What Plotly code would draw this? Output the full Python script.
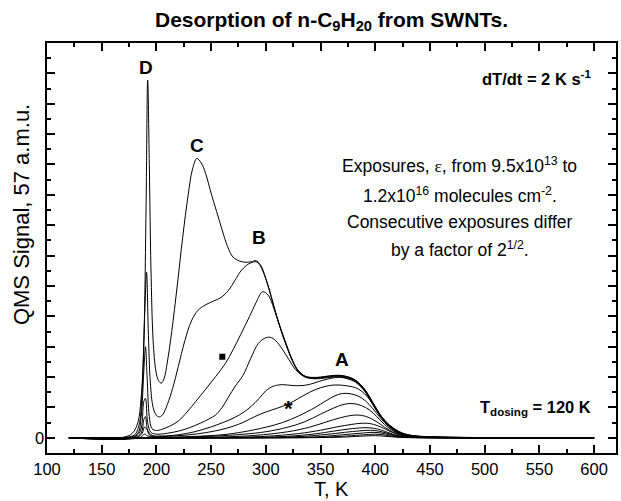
import plotly.graph_objects as go

# ---------------- data ----------------
T1 = [120, 170, 178, 183, 186, 188.5, 190.5, 192, 193.5, 195, 197, 199.5, 202, 204.5, 207, 210, 214, 219, 224, 229,
      233, 237, 241, 245, 250, 255, 260, 265, 270, 276, 282, 287, 291, 295, 300, 305, 310, 315, 320, 325,
      330, 336, 342, 350, 358, 367, 374, 382, 391, 398, 406, 413, 421, 428, 436, 450, 480, 520, 600]
S1 = [0, 0.02, 0.15, 0.5, 1.3, 3.2, 7.5, 11.78, 9.0, 5.6, 3.2, 2.2, 1.88, 1.8, 1.95, 2.5, 3.5, 5.0, 6.6, 8.0,
      8.85, 9.2, 9.05, 8.7, 8.05, 7.45, 6.85, 6.3, 5.95, 5.82, 5.78, 5.8, 5.83, 5.7, 5.25, 4.65, 4.0, 3.45, 2.95, 2.5,
      2.2, 2.03, 1.99, 2.0, 2.04, 2.06, 2.02, 1.9, 1.57, 1.15, 0.69, 0.42, 0.22, 0.12, 0.07, 0.035, 0.015, 0.005, 0]

T2 = [120, 170, 180, 184, 187, 189.5, 191, 192.5, 194.5, 197, 200, 203, 206, 210, 215, 220, 226, 232, 238, 245,
      252, 259, 266, 272, 278, 284, 288, 291, 295, 300, 305, 310, 315, 320, 325, 330, 336, 342, 350, 358,
      367, 374, 382, 391, 398, 406, 413, 421, 428, 436, 450, 480, 520, 600]
S2 = [0, 0.01, 0.1, 0.4, 1.6, 4.3, 5.45, 3.6, 1.8, 1.0, 0.74, 0.69, 0.78, 1.1, 1.65, 2.35, 3.2, 3.85, 4.2, 4.38,
      4.5, 4.62, 4.86, 5.2, 5.53, 5.72, 5.78, 5.8, 5.66, 5.22, 4.62, 3.98, 3.43, 2.93, 2.49, 2.19, 2.02, 1.98, 1.99, 2.03,
      2.05, 2.01, 1.89, 1.56, 1.14, 0.68, 0.41, 0.21, 0.11, 0.06, 0.03, 0.012, 0.004, 0]

T3 = [120, 175, 183, 186, 188.5, 190, 191.5, 193.5, 196, 200, 205, 212, 220, 228, 236, 245, 254, 263, 270, 277,
      285, 291, 297, 302, 306, 310, 315, 320, 325, 330, 336, 342, 350, 358, 367, 374, 382, 391, 398, 406,
      413, 421, 428, 436, 450, 480, 600]
S3 = [0, 0.01, 0.15, 0.7, 2.2, 3.0, 2.0, 0.7, 0.3, 0.24, 0.28, 0.38, 0.55, 0.85, 1.2, 1.6, 2.01, 2.45, 2.9, 3.4,
      3.99, 4.45, 4.81, 4.7, 4.4, 3.97, 3.41, 2.91, 2.47, 2.17, 2.0, 1.96, 1.97, 2.01, 2.03, 1.99, 1.87, 1.54, 1.12, 0.67,
      0.4, 0.2, 0.1, 0.055, 0.028, 0.01, 0]

T4 = [120, 178, 185, 188.5, 190, 192, 195, 200, 210, 220, 230, 240, 248, 254, 260, 266, 272, 279, 286, 293,
      299, 304, 309, 315, 321, 327, 333, 340, 350, 358, 367, 374, 382, 391, 398, 406, 413, 421, 428, 436,
      450, 480, 600]
S4 = [0, 0.01, 0.2, 1.2, 1.3, 0.5, 0.18, 0.12, 0.15, 0.22, 0.33, 0.48, 0.62, 0.75, 1.0, 1.35, 1.7, 2.05, 2.6, 3.1,
      3.28, 3.31, 3.2, 2.92, 2.58, 2.25, 2.06, 1.96, 1.95, 1.99, 2.01, 1.97, 1.85, 1.52, 1.1, 0.66, 0.39, 0.19, 0.1, 0.05,
      0.025, 0.01, 0]

T5 = [120, 180, 186, 188.5, 190, 192, 196, 205, 220, 235, 250, 262, 272, 280, 287, 294, 300, 307, 315, 325,
      333, 340, 348, 356, 363, 368, 374, 382, 391, 398, 406, 413, 421, 428, 436, 450, 480, 600]
S5 = [0, 0.01, 0.15, 0.6, 0.7, 0.25, 0.08, 0.06, 0.1, 0.2, 0.36, 0.52, 0.68, 0.85, 1.05, 1.3, 1.55, 1.7, 1.75, 1.72,
      1.72, 1.76, 1.85, 1.93, 1.98, 1.99, 1.95, 1.83, 1.5, 1.08, 0.64, 0.38, 0.19, 0.09, 0.05, 0.02, 0.008, 0]

T6 = [120, 182, 187, 189, 191, 194, 200, 215, 230, 245, 258, 270, 280, 290, 300, 310, 321, 330, 340, 350,
      358, 364, 370, 376, 382, 388, 395, 402, 409, 416, 423, 430, 440, 460, 600]
S6 = [0, 0.01, 0.15, 0.35, 0.3, 0.08, 0.04, 0.06, 0.1, 0.17, 0.26, 0.38, 0.52, 0.7, 0.85, 0.97, 1.12, 1.3, 1.5, 1.65,
      1.72, 1.74, 1.73, 1.7, 1.65, 1.52, 1.25, 0.85, 0.52, 0.28, 0.14, 0.07, 0.035, 0.01, 0]

T7 = [120, 185, 189, 192, 200, 230, 260, 280, 300, 315, 330, 345, 355, 363, 370, 377, 384, 391, 398, 405,
      412, 420, 428, 436, 460, 520, 600]
S7 = [0, 0.005, 0.12, 0.06, 0.02, 0.04, 0.1, 0.2, 0.35, 0.5, 0.72, 1.0, 1.22, 1.38, 1.46, 1.45, 1.38, 1.22, 0.95, 0.64,
      0.38, 0.18, 0.09, 0.045, 0.015, 0.004, 0]

T8 = [120, 200, 250, 280, 300, 320, 335, 350, 362, 370, 377, 384, 391, 398, 405, 412, 420, 428, 440, 470, 600]
S8 = [0, 0.01, 0.05, 0.12, 0.2, 0.35, 0.52, 0.78, 0.98, 1.09, 1.13, 1.1, 1.0, 0.82, 0.56, 0.33, 0.16, 0.075, 0.035, 0.012, 0]

T9 = [120, 250, 290, 320, 340, 355, 368, 377, 384, 391, 398, 405, 412, 420, 428, 445, 600]
S9 = [0, 0.02, 0.08, 0.2, 0.35, 0.52, 0.66, 0.73, 0.75, 0.71, 0.6, 0.44, 0.27, 0.13, 0.06, 0.02, 0]

T10 = [120, 260, 300, 330, 350, 365, 378, 388, 395, 402, 409, 416, 424, 435, 460, 600]
S10 = [0, 0.01, 0.05, 0.14, 0.25, 0.36, 0.44, 0.48, 0.47, 0.4, 0.29, 0.17, 0.08, 0.03, 0.01, 0]

T11 = [120, 280, 320, 345, 362, 376, 388, 395, 402, 409, 416, 424, 440, 600]
S11 = [0, 0.01, 0.05, 0.13, 0.22, 0.29, 0.33, 0.33, 0.29, 0.21, 0.12, 0.05, 0.015, 0]

T12 = [120, 300, 335, 355, 372, 386, 396, 403, 410, 417, 425, 445, 600]
S12 = [0, 0.01, 0.05, 0.11, 0.18, 0.23, 0.25, 0.22, 0.16, 0.09, 0.04, 0.01, 0]

T13 = [120, 320, 350, 370, 386, 398, 405, 412, 419, 428, 600]
S13 = [0, 0.01, 0.04, 0.1, 0.15, 0.18, 0.16, 0.11, 0.06, 0.02, 0]

T14 = [120, 340, 365, 382, 394, 400, 407, 414, 421, 432, 600]
S14 = [0, 0.01, 0.04, 0.08, 0.11, 0.12, 0.1, 0.06, 0.03, 0.01, 0]

T15 = [120, 355, 375, 390, 400, 408, 416, 425, 600]
S15 = [0, 0.01, 0.03, 0.06, 0.07, 0.055, 0.03, 0.01, 0]

peak_labels = ["D", "C", "B", "A"]
peak_label_T = [190.5, 237.4, 293.8, 369.7]
peak_label_S = [12.2, 9.64, 6.58, 2.58]

square_T = [260.2]
square_S = [2.67]
star_T = [321.1]
star_S = [0.95]

x_ticks = [100, 150, 200, 250, 300, 350, 400, 450, 500, 550, 600]
y_ticks = list(range(13))
y_label_value = 0

curves = [(T1, S1), (T2, S2), (T3, S3), (T4, S4), (T5, S5), (T6, S6), (T7, S7), (T8, S8),
          (T9, S9), (T10, S10), (T11, S11), (T12, S12), (T13, S13), (T14, S14), (T15, S15)]

# ---------------- figure ----------------
W, H = 621, 501
ML, MR, MT, MB = 47, 3, 43, 48
FONT = "Liberation Sans, Arial, Helvetica, sans-serif"

def px_x(px):
    return (px - ML) / (W - ML - MR)

def px_y(py):
    return (H - MB - py) / (H - MT - MB)

fig = go.Figure()
for T, S in curves:
    fig.add_trace(go.Scatter(x=T, y=S, mode="lines",
                             line=dict(color="black", width=1, shape="spline", smoothing=1),
                             hoverinfo="skip", showlegend=False))

fig.add_trace(go.Scatter(x=square_T, y=square_S, mode="markers",
                         marker=dict(symbol="square", size=6, color="black"),
                         hoverinfo="skip", showlegend=False))

for lab, t, s in zip(peak_labels, peak_label_T, peak_label_S):
    fig.add_annotation(x=t, y=s, xref="x", yref="y", text="<b>%s</b>" % lab, showarrow=False,
                       font=dict(family=FONT, size=19, color="black"))

fig.add_annotation(x=star_T[0], y=star_S[0], xref="x", yref="y", text="<b>*</b>", showarrow=False,
                   font=dict(family=FONT, size=22, color="black"))

# the only labelled y tick ("0")
fig.add_annotation(x=px_x(46), y=y_label_value, xref="paper", yref="y", text=str(y_label_value),
                   showarrow=False, xanchor="right", yanchor="middle",
                   font=dict(family=FONT, size=16.5, color="black"))

anns = [
    dict(x=0.5, y=px_y(21), text="<b>Desorption of n-C<sub>9</sub>H<sub>20</sub> from SWNTs.</b>",
         size=21, xanchor="center"),
    dict(x=0.5, y=px_y(489), text="T, K", size=20, xanchor="center"),
    dict(x=px_x(595), y=px_y(78), text="<b>dT/dt = 2 K s<sup>-1</sup></b>", size=16.5, xanchor="right"),
    dict(x=px_x(461), y=px_y(165),
         text="Exposures, <span style=\"font-family:'Liberation Serif'\">ε</span>, from 9.5x10<sup>13</sup> to",
         size=17.5, xanchor="center"),
    dict(x=px_x(461), y=px_y(195), text="1.2x10<sup>16</sup> molecules cm<sup>-2</sup>.", size=17.5,
         xanchor="center"),
    dict(x=px_x(461), y=px_y(222), text="Consecutive exposures differ", size=17.5, xanchor="center"),
    dict(x=px_x(461), y=px_y(249), text="by a factor of 2<sup>1/2</sup>.", size=17.5, xanchor="center"),
    dict(x=px_x(595), y=px_y(408), text="<b>T<sub>dosing</sub> = 120 K</b>", size=16.5, xanchor="right"),
]
for a in anns:
    fig.add_annotation(x=a["x"], y=a["y"], xref="paper", yref="paper", text=a["text"], showarrow=False,
                       xanchor=a["xanchor"], yanchor="middle",
                       font=dict(family=FONT, size=a["size"], color="black"))

fig.add_annotation(x=px_x(21), y=px_y(215), xref="paper", yref="paper", text="QMS Signal, 57 a.m.u.",
                   textangle=-90, showarrow=False, xanchor="center", yanchor="middle",
                   font=dict(family=FONT, size=22, color="black"))

axis_common = dict(showline=True, linecolor="black", linewidth=2, mirror="ticks", ticks="inside",
                   ticklen=8, tickwidth=1.5, tickcolor="black", showgrid=False, zeroline=False,
                   tickfont=dict(family=FONT, size=16.5, color="black"))

fig.update_xaxes(range=[100, 620], tickmode="array", tickvals=x_ticks,
                 minor=dict(ticks="inside", ticklen=4, tickwidth=1.5, tickcolor="black", tick0=100, dtick=25,
                            showgrid=False),
                 **axis_common)
fig.update_yaxes(range=[-0.5, 13], tickmode="array", tickvals=y_ticks, showticklabels=False,
                 minor=dict(ticks="inside", ticklen=4, tickwidth=1.5, tickcolor="black", tick0=0, dtick=0.5,
                            showgrid=False),
                 **axis_common)

fig.update_layout(width=W, height=H, autosize=False,
                  margin=dict(l=ML, r=MR, t=MT, b=MB, pad=0),
                  paper_bgcolor="white", plot_bgcolor="white",
                  font=dict(family=FONT, color="black"))

fig.write_html("out.html")
